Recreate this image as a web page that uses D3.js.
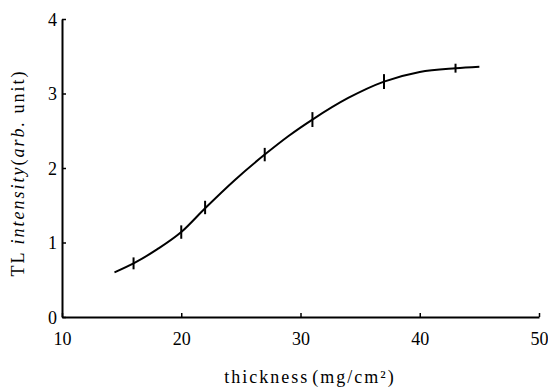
<!DOCTYPE html>
<html>
<head>
<meta charset="utf-8">
<script src="https://cdn.jsdelivr.net/npm/d3@7"></script>
<style>
body { margin: 0; background: #fff; }
</style>
</head>
<body>
<div id="chart"></div>
<script>
var w = 548, h = 390;
var serif = "'Liberation Serif', 'Times New Roman', Times, serif";

// measured points (with small error bars)
var thickness = [16, 20, 22, 27, 31, 37, 43];
var intensity = [0.72, 1.14, 1.47, 2.18, 2.65, 3.16, 3.34];
var errHalf   = [0.08, 0.09, 0.09, 0.09, 0.1, 0.1, 0.06];

// smooth fitted curve
var curveX = [14.4, 16, 18, 20, 22, 24.5, 27, 29, 31, 34, 37, 40, 43, 45];
var curveY = [0.60, 0.72, 0.91, 1.14, 1.46, 1.84, 2.18, 2.43, 2.65, 2.94, 3.16, 3.29, 3.34, 3.36];

var xTicks = [10, 20, 30, 40, 50];
var yTicks = [0, 1, 2, 3, 4];

var x = d3.scaleLinear().domain([10, 50]).range([62, 539]);
var y = d3.scaleLinear().domain([0, 4]).range([317, 19]);

var svg = d3.select("#chart")
	.append("svg")
	.attr("width", w)
	.attr("height", h);

// axes, ticks pointing inward
var xAxis = svg.append("g")
	.attr("transform", "translate(0," + y(0) + ")")
	.call(d3.axisBottom(x).tickValues(xTicks).tickFormat(d3.format("d"))
		.tickSizeInner(-4).tickSizeOuter(0).tickPadding(12));
var yAxis = svg.append("g")
	.attr("transform", "translate(" + x(10) + ",0)")
	.call(d3.axisLeft(y).tickValues(yTicks).tickFormat(d3.format("d"))
		.tickSizeInner(-4).tickSizeOuter(0).tickPadding(5));

[xAxis, yAxis].forEach(function(a) {
	a.attr("font-family", null);
	a.select(".domain").attr("stroke", "#000").attr("stroke-width", 2);
	a.selectAll(".tick line").attr("stroke", "#000").attr("stroke-width", 1.5);
	a.selectAll(".tick text")
		.style("font-family", serif)
		.style("font-size", "18px")
		.attr("fill", "#000");
});
xAxis.selectAll(".tick text").attr("dy", "0.9em");
yAxis.selectAll(".tick text").attr("dy", "0.35em");

// fitted curve
var pts = curveX.map(function(d, i) { return [d, curveY[i]]; });
var line = d3.line()
	.x(function(d) { return x(d[0]); })
	.y(function(d) { return y(d[1]); })
	.curve(d3.curveMonotoneX);

svg.append("path")
	.datum(pts)
	.attr("d", line)
	.attr("fill", "none")
	.attr("stroke", "#000")
	.attr("stroke-width", 2);

// error bars
svg.selectAll(".err")
	.data(thickness)
	.enter()
	.append("line")
	.attr("class", "err")
	.attr("x1", function(d) { return x(d); })
	.attr("x2", function(d) { return x(d); })
	.attr("y1", function(d, i) { return y(intensity[i] - errHalf[i]); })
	.attr("y2", function(d, i) { return y(intensity[i] + errHalf[i]); })
	.attr("stroke", "#000")
	.attr("stroke-width", 2);

// axis titles
var xt = svg.append("text")
	.attr("x", 310)
	.attr("y", 383)
	.attr("text-anchor", "middle")
	.style("font-family", serif)
	.style("font-size", "18px")
	.style("letter-spacing", "2px");
xt.append("tspan").text("thickness");
xt.append("tspan").attr("dx", 3).text("(mg/cm²)");

var yt = svg.append("text")
	.attr("transform", "translate(24,173) rotate(-90)")
	.attr("text-anchor", "middle")
	.style("font-family", serif)
	.style("font-size", "18px")
	.style("letter-spacing", "2px");
yt.append("tspan").text("TL ");
yt.append("tspan").attr("font-style", "italic").text("intensity");
yt.append("tspan").text("(");
yt.append("tspan").attr("font-style", "italic").text("arb.");
yt.append("tspan").text(" unit)");
</script>
</body>
</html>
